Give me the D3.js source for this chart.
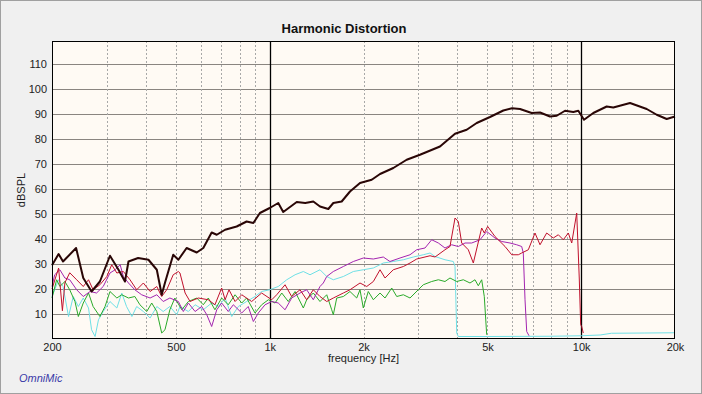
<!DOCTYPE html>
<html>
<head>
<meta charset="utf-8">
<script src="https://cdn.jsdelivr.net/npm/d3@7"></script>
<style>
  html, body { margin: 0; padding: 0; background: #f0f0f0; }
  svg { display: block; font-family: "Liberation Sans", Arial, sans-serif; }
</style>
</head>
<body>
<div id="chart"></div>
<script>
var svgWidth = 702;
var svgHeight = 394;

var plot = { left: 52, right: 675, top: 41, bottom: 339 };

// tick labels
var yTicks = [10, 20, 30, 40, 50, 60, 70, 80, 90, 100, 110];
var xTicks = [200, 500, 1000, 2000, 5000, 10000, 20000];
var xTickLabels = ["200", "500", "1k", "2k", "5k", "10k", "20k"];
var dottedFreqs = [300, 400, 500, 600, 700, 800, 900, 2000, 3000, 4000, 5000, 6000, 7000, 8000, 9000];
var solidFreqs = [1000, 10000];

// series, [frequency Hz, dBSPL]
var fundamental = [
  [200, 29.5], [210, 34], [217, 31], [239, 36.4], [252, 24.4], [268, 19], [285, 23],
  [307, 33.3], [327, 27.7], [343, 23], [352, 31], [378, 32.4], [408, 31.7], [434, 27.7],
  [450, 17.7], [461, 22.5], [490, 33.7], [509, 31.7], [541, 36.4], [583, 34.6], [612, 36.4],
  [651, 42.6], [676, 41.7], [719, 43.7], [783, 45], [843, 47], [886, 46.4], [930, 50.4],
  [1000, 52.4], [1065, 54.4], [1105, 50.8], [1221, 54.8], [1300, 54.4], [1380, 55], [1450, 53],
  [1542, 52], [1600, 54.4], [1702, 55], [1810, 59], [1949, 62.4], [2125, 63.7], [2260, 66],
  [2493, 68.4], [2752, 71.7], [3036, 73.7], [3520, 77], [3934, 82.1], [4288, 83.7],
  [4618, 86.4], [5094, 88.8], [5622, 91.4], [6000, 92.3], [6360, 92], [6934, 90.4], [7374, 90.6],
  [7938, 89], [8342, 89.3], [8872, 91.3], [9430, 90.8], [9786, 91.3], [10208, 87.7],
  [10934, 90.4], [12070, 93], [12676, 92.6], [14344, 94.4], [16226, 92], [17474, 89.7],
  [18808, 88], [19750, 88.8], [20000, 89]
];

var h2 = [
  [200, 20], [210, 28.4], [216, 11.3], [220, 22.5], [228, 26.5], [240, 23.7], [252, 21],
  [262, 23.7], [271, 19.7], [285, 21.7], [300, 25], [311, 29.7], [323, 26.4], [339, 27],
  [356, 23.7], [374, 19.7], [393, 22.4], [413, 19], [434, 21], [450, 17], [467, 19.7],
  [490, 25.7], [509, 27], [515, 26.4], [535, 18.4], [555, 15], [590, 16.4], [635, 15.7],
  [667, 13.7], [701, 20.4], [719, 15.7], [740, 19.7], [774, 15], [813, 17.7], [875, 15],
  [942, 18.4], [1015, 15.7], [1053, 17.7], [1120, 21.7], [1176, 17], [1251, 19.7],
  [1314, 15.7], [1380, 19.7], [1450, 17], [1524, 15], [1600, 16.4], [1723, 18.4],
  [1810, 19.7], [1949, 22.4], [2048, 21], [2151, 23], [2260, 27.7], [2345, 24.4],
  [2493, 27.7], [2685, 29], [2821, 30.4], [2964, 32], [3271, 33.3], [3393, 32.8],
  [3653, 35.7], [3790, 37], [3934, 48.4], [4030, 47], [4133, 38.4], [4340, 35.7],
  [4504, 30.4], [4791, 44.4], [4884, 42.4], [5008, 45], [5286, 41], [5694, 37],
  [5982, 33.7], [6281, 33.7], [6440, 34.4], [6763, 35.7], [7105, 42.4], [7374, 37.7],
  [7746, 42.4], [8134, 40.4], [8442, 41.7], [8760, 39.7], [9090, 42.4], [9322, 38.4],
  [9672, 50.4], [9858, 24], [9960, 5.7], [10034, 5], [10153, 2.4]
];

var h3 = [
  [200, 21], [204, 25.7], [212, 27.7], [220, 24.4], [228, 23.7], [240, 19.7], [252, 17],
  [265, 19], [278, 18.4], [292, 21], [307, 26.4], [319, 27.7], [331, 29.7], [339, 25],
  [352, 22.4], [369, 19.7], [388, 17.7], [413, 16.4], [434, 17.7], [455, 15], [478, 16.4],
  [509, 15], [528, 11], [548, 14.4], [576, 11], [605, 13], [628, 9.7], [651, 5],
  [676, 11.7], [701, 14.4], [736, 11], [764, 13.7], [813, 10.4], [853, 13], [886, 7],
  [919, 10.4], [966, 13.7], [1015, 15], [1065, 14.4], [1120, 11.7], [1176, 16.4],
  [1251, 18.4], [1314, 19.7], [1380, 15.7], [1450, 21], [1486, 22.4], [1524, 25],
  [1600, 27], [1723, 29], [1855, 31], [1997, 32.4], [2151, 32], [2315, 32.8], [2432, 31],
  [2620, 32.4], [2821, 33.7], [2964, 35.7], [3151, 36.4], [3311, 39.7], [3478, 38.4],
  [3653, 36.4], [3838, 37.7], [4030, 37], [4236, 38.4], [4450, 38.4], [4732, 39.7],
  [4972, 43], [5286, 40.4], [5556, 39], [5906, 38.4], [6206, 37.7], [6440, 37],
  [6516, 34.4], [6600, 15.7], [6683, 3], [6798, 1.3]
];

var h4 = [
  [200, 16.4], [207, 23.7], [212, 21], [220, 23], [228, 19.7], [237, 15], [243, 9],
  [252, 14.4], [262, 18.4], [271, 13], [285, 9], [296, 13], [307, 19], [323, 16.4],
  [335, 17.7], [352, 16.4], [369, 17], [383, 13.7], [403, 11], [418, 14.4], [434, 11],
  [450, 2.4], [461, 3.7], [478, 11.7], [496, 16.4], [522, 11.7], [548, 15], [583, 16.4],
  [612, 13.7], [635, 16.4], [667, 11.7], [701, 16.4], [736, 13.7], [774, 17.7],
  [813, 14.4], [843, 16.4], [897, 10.4], [942, 13.7], [990, 15.7], [1040, 14.4],
  [1093, 18.4], [1147, 15], [1206, 19], [1282, 12.4], [1314, 15.7], [1380, 18.4],
  [1450, 15], [1524, 17.7], [1581, 11.7], [1600, 9.7], [1641, 16.4], [1723, 17],
  [1810, 19], [1902, 16.4], [1949, 19.7], [1997, 12.4], [2072, 19], [2151, 15.7],
  [2260, 18.4], [2345, 16.4], [2464, 20.4], [2557, 17], [2685, 17.7], [2821, 16.4],
  [2998, 19.7], [3112, 21.7], [3311, 23], [3478, 23.7], [3653, 23], [3790, 24.4],
  [3984, 23], [4183, 23.7], [4395, 22.4], [4560, 23.7], [4673, 21.3], [4791, 23.7],
  [4884, 17], [4972, 1.7]
];

var h5 = [
  [200, 17], [210, 23.7], [217, 21], [226, 9], [234, 17], [243, 13], [252, 16.4],
  [262, 12.4], [268, 3.7], [275, 1], [282, 7.7], [292, 11], [307, 15], [323, 12.4],
  [335, 18.4], [347, 13], [361, 9], [374, 13], [393, 11], [413, 8.4], [434, 13],
  [455, 11], [478, 13], [503, 9.7], [515, 13], [548, 11], [576, 13.7], [612, 11.7],
  [651, 14.4], [684, 13], [719, 16.4], [755, 9], [793, 13], [843, 15], [897, 17],
  [942, 19], [1000, 19.7], [1065, 21], [1134, 23.7], [1206, 25.7], [1282, 27],
  [1347, 25.7], [1450, 27.7], [1524, 25], [1600, 23.7], [1723, 25], [1855, 27],
  [1997, 27.7], [2151, 28.4], [2315, 30.4], [2493, 31], [2685, 31.7], [2890, 32.8],
  [3112, 33.7], [3271, 34.4], [3393, 33], [3653, 31.7], [3884, 31], [3934, 29],
  [3984, 2.4], [4030, 1], [5000, 1], [8000, 1.1], [10000, 1.3], [11500, 1.6],
  [12500, 2.3], [16000, 2.4], [20000, 2.5]
];

var seriesList = [
  { data: h5, color: "#6fe0e6", width: 1 },
  { data: h4, color: "#2aaa2a", width: 1 },
  { data: h3, color: "#a324b0", width: 1 },
  { data: h2, color: "#c0102c", width: 1 },
  { data: fundamental, color: "#2a0606", width: 2 }
];

var svg = d3.select("#chart")
  .append("svg")
  .attr("width", svgWidth)
  .attr("height", svgHeight);

// window frame
svg.append("rect")
  .attr("x", 0.5).attr("y", 0.5)
  .attr("width", svgWidth - 1).attr("height", svgHeight - 1)
  .attr("fill", "#f0f0f0")
  .attr("stroke", "#a0a0a0");

var xScale = d3.scaleLog()
  .domain([200, 20000])
  .range([plot.left, plot.right]);

var yScale = d3.scaleLinear()
  .domain([0, 119.2])
  .range([plot.bottom, plot.top]);

// plot background
svg.append("rect")
  .attr("x", plot.left).attr("y", plot.top)
  .attr("width", plot.right - plot.left).attr("height", plot.bottom - plot.top)
  .attr("fill", "#fffaf4");

var grid = svg.append("g");

grid.selectAll(".hgrid")
  .data(yTicks)
  .enter()
  .append("line")
  .attr("x1", plot.left).attr("x2", plot.right)
  .attr("y1", d => Math.round(yScale(d)) + 0.5)
  .attr("y2", d => Math.round(yScale(d)) + 0.5)
  .attr("stroke", "#8a8580")
  .attr("stroke-width", 1);

grid.selectAll(".vdot")
  .data(dottedFreqs)
  .enter()
  .append("line")
  .attr("x1", d => Math.round(xScale(d)) + 0.5)
  .attr("x2", d => Math.round(xScale(d)) + 0.5)
  .attr("y1", plot.top).attr("y2", plot.bottom)
  .attr("stroke", "#a8a8a8")
  .attr("stroke-dasharray", "2,2");

grid.selectAll(".vsolid")
  .data(solidFreqs)
  .enter()
  .append("line")
  .attr("x1", d => Math.round(xScale(d)) + 0.5)
  .attr("x2", d => Math.round(xScale(d)) + 0.5)
  .attr("y1", plot.top).attr("y2", plot.bottom)
  .attr("stroke", "#000")
  .attr("stroke-width", 1.3);

// curves
var lineGen = d3.line()
  .x(d => xScale(d[0]))
  .y(d => yScale(d[1]));

svg.append("g")
  .selectAll("path")
  .data(seriesList)
  .enter()
  .append("path")
  .attr("d", d => lineGen(d.data))
  .attr("fill", "none")
  .attr("stroke", d => d.color)
  .attr("stroke-width", d => d.width)
  .attr("stroke-linejoin", "round");

// plot border
svg.append("rect")
  .attr("x", plot.left + 0.5).attr("y", plot.top + 0.5)
  .attr("width", plot.right - plot.left - 1).attr("height", plot.bottom - plot.top - 1)
  .attr("fill", "none")
  .attr("stroke", "#000");

// axes
var leftAxis = d3.axisLeft(yScale)
  .tickValues(yTicks)
  .tickSize(0)
  .tickPadding(5);

var bottomAxis = d3.axisBottom(xScale)
  .tickValues(xTicks)
  .tickFormat((d, i) => xTickLabels[i])
  .tickSize(0)
  .tickPadding(4);

var yAxis = svg.append("g")
  .attr("transform", `translate(${plot.left}, 0)`)
  .call(leftAxis);

var xAxis = svg.append("g")
  .attr("transform", `translate(0, ${plot.bottom})`)
  .call(bottomAxis);

[yAxis, xAxis].forEach(function(ax) {
  ax.select(".domain").remove();
  ax.selectAll("text")
    .attr("fill", "#222")
    .style("font-size", "11px")
    .style("font-family", "'Liberation Sans', Arial, sans-serif");
});

// titles
svg.append("text")
  .attr("x", 344)
  .attr("y", 33)
  .attr("text-anchor", "middle")
  .style("font-family", "'Liberation Sans Narrow', 'Liberation Sans', Arial, sans-serif")
  .style("font-size", "13px")
  .style("font-weight", "bold")
  .attr("fill", "#111")
  .text("Harmonic Distortion");

svg.append("text")
  .attr("x", (plot.left + plot.right) / 2)
  .attr("y", 362)
  .attr("text-anchor", "middle")
  .style("font-size", "11px")
  .attr("fill", "#222")
  .text("frequency [Hz]");

svg.append("text")
  .attr("transform", `translate(25, ${(plot.top + plot.bottom) / 2}) rotate(-90)`)
  .attr("text-anchor", "middle")
  .style("font-size", "11px")
  .attr("fill", "#222")
  .text("dBSPL");

svg.append("text")
  .attr("x", 19)
  .attr("y", 382)
  .style("font-size", "11px")
  .style("font-style", "italic")
  .attr("fill", "#3a3aa8")
  .text("OmniMic");
</script>
</body>
</html>
